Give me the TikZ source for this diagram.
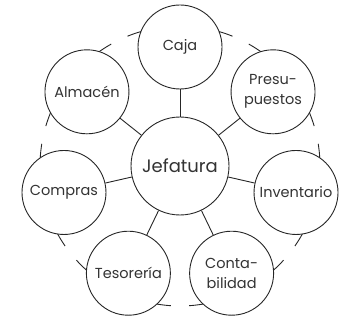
\documentclass[tikz,border=0pt]{standalone}
\usepackage{fontspec}
\setmainfont{Poppins}
\colorlet{ringline}{black!85}
\colorlet{labeltext}{black!80}

\begin{document}
\begin{tikzpicture}[
  x=1pt, y=1pt,
  every node/.style={align=center, text=labeltext},
  hub/.style  ={circle, draw=ringline, fill=white, line width=0.9pt,
                minimum size=98pt, inner sep=0pt, font=\fontsize{18}{22}\selectfont},
  area/.style ={circle, draw=ringline, fill=white, line width=0.9pt,
                minimum size=84pt, inner sep=0pt, font=\fontsize{14.5}{20}\selectfont},
  spoke/.style={draw=ringline, line width=0.9pt},
  rim/.style  ={draw=ringline, line width=0.9pt},
]
\useasboundingbox (-180,-155) rectangle (165,166);

%% ── outer ring: short arcs next to each area ───────────────────────
\foreach \a in {90, 38.57, -12.86, -64.29, -115.71, -167.14, 141.43}
  \draw[rim] (\a-22:140) arc[start angle=\a-22, end angle=\a+22, radius=140];

%% ── centre ─────────────────────────────────────────────────────────
\node[hub] (jef) at (0,0) {Jefatura};

%% ── areas round the centre ─────────────────────────────────────────
\node[area] (caja)    at (90:119)      {Caja};
\node[area] (presup)  at (38.57:119)   {Presu-\\puestos};
\node[area] (invent)  at (-12.86:119)  {Inventario};
\node[area] (contab)  at (-64.29:119)  {Conta-\\bilidad};
\node[area] (tesor)   at (-115.71:119) {Tesorería};
\node[area] (compras) at (-167.14:119) {Compras};
\node[area] (almacen) at (141.43:119)  {Almacén};

\foreach \n in {caja, presup, invent, contab, tesor, compras, almacen}
  \draw[spoke] (jef) -- (\n);

\end{tikzpicture}
\end{document}
